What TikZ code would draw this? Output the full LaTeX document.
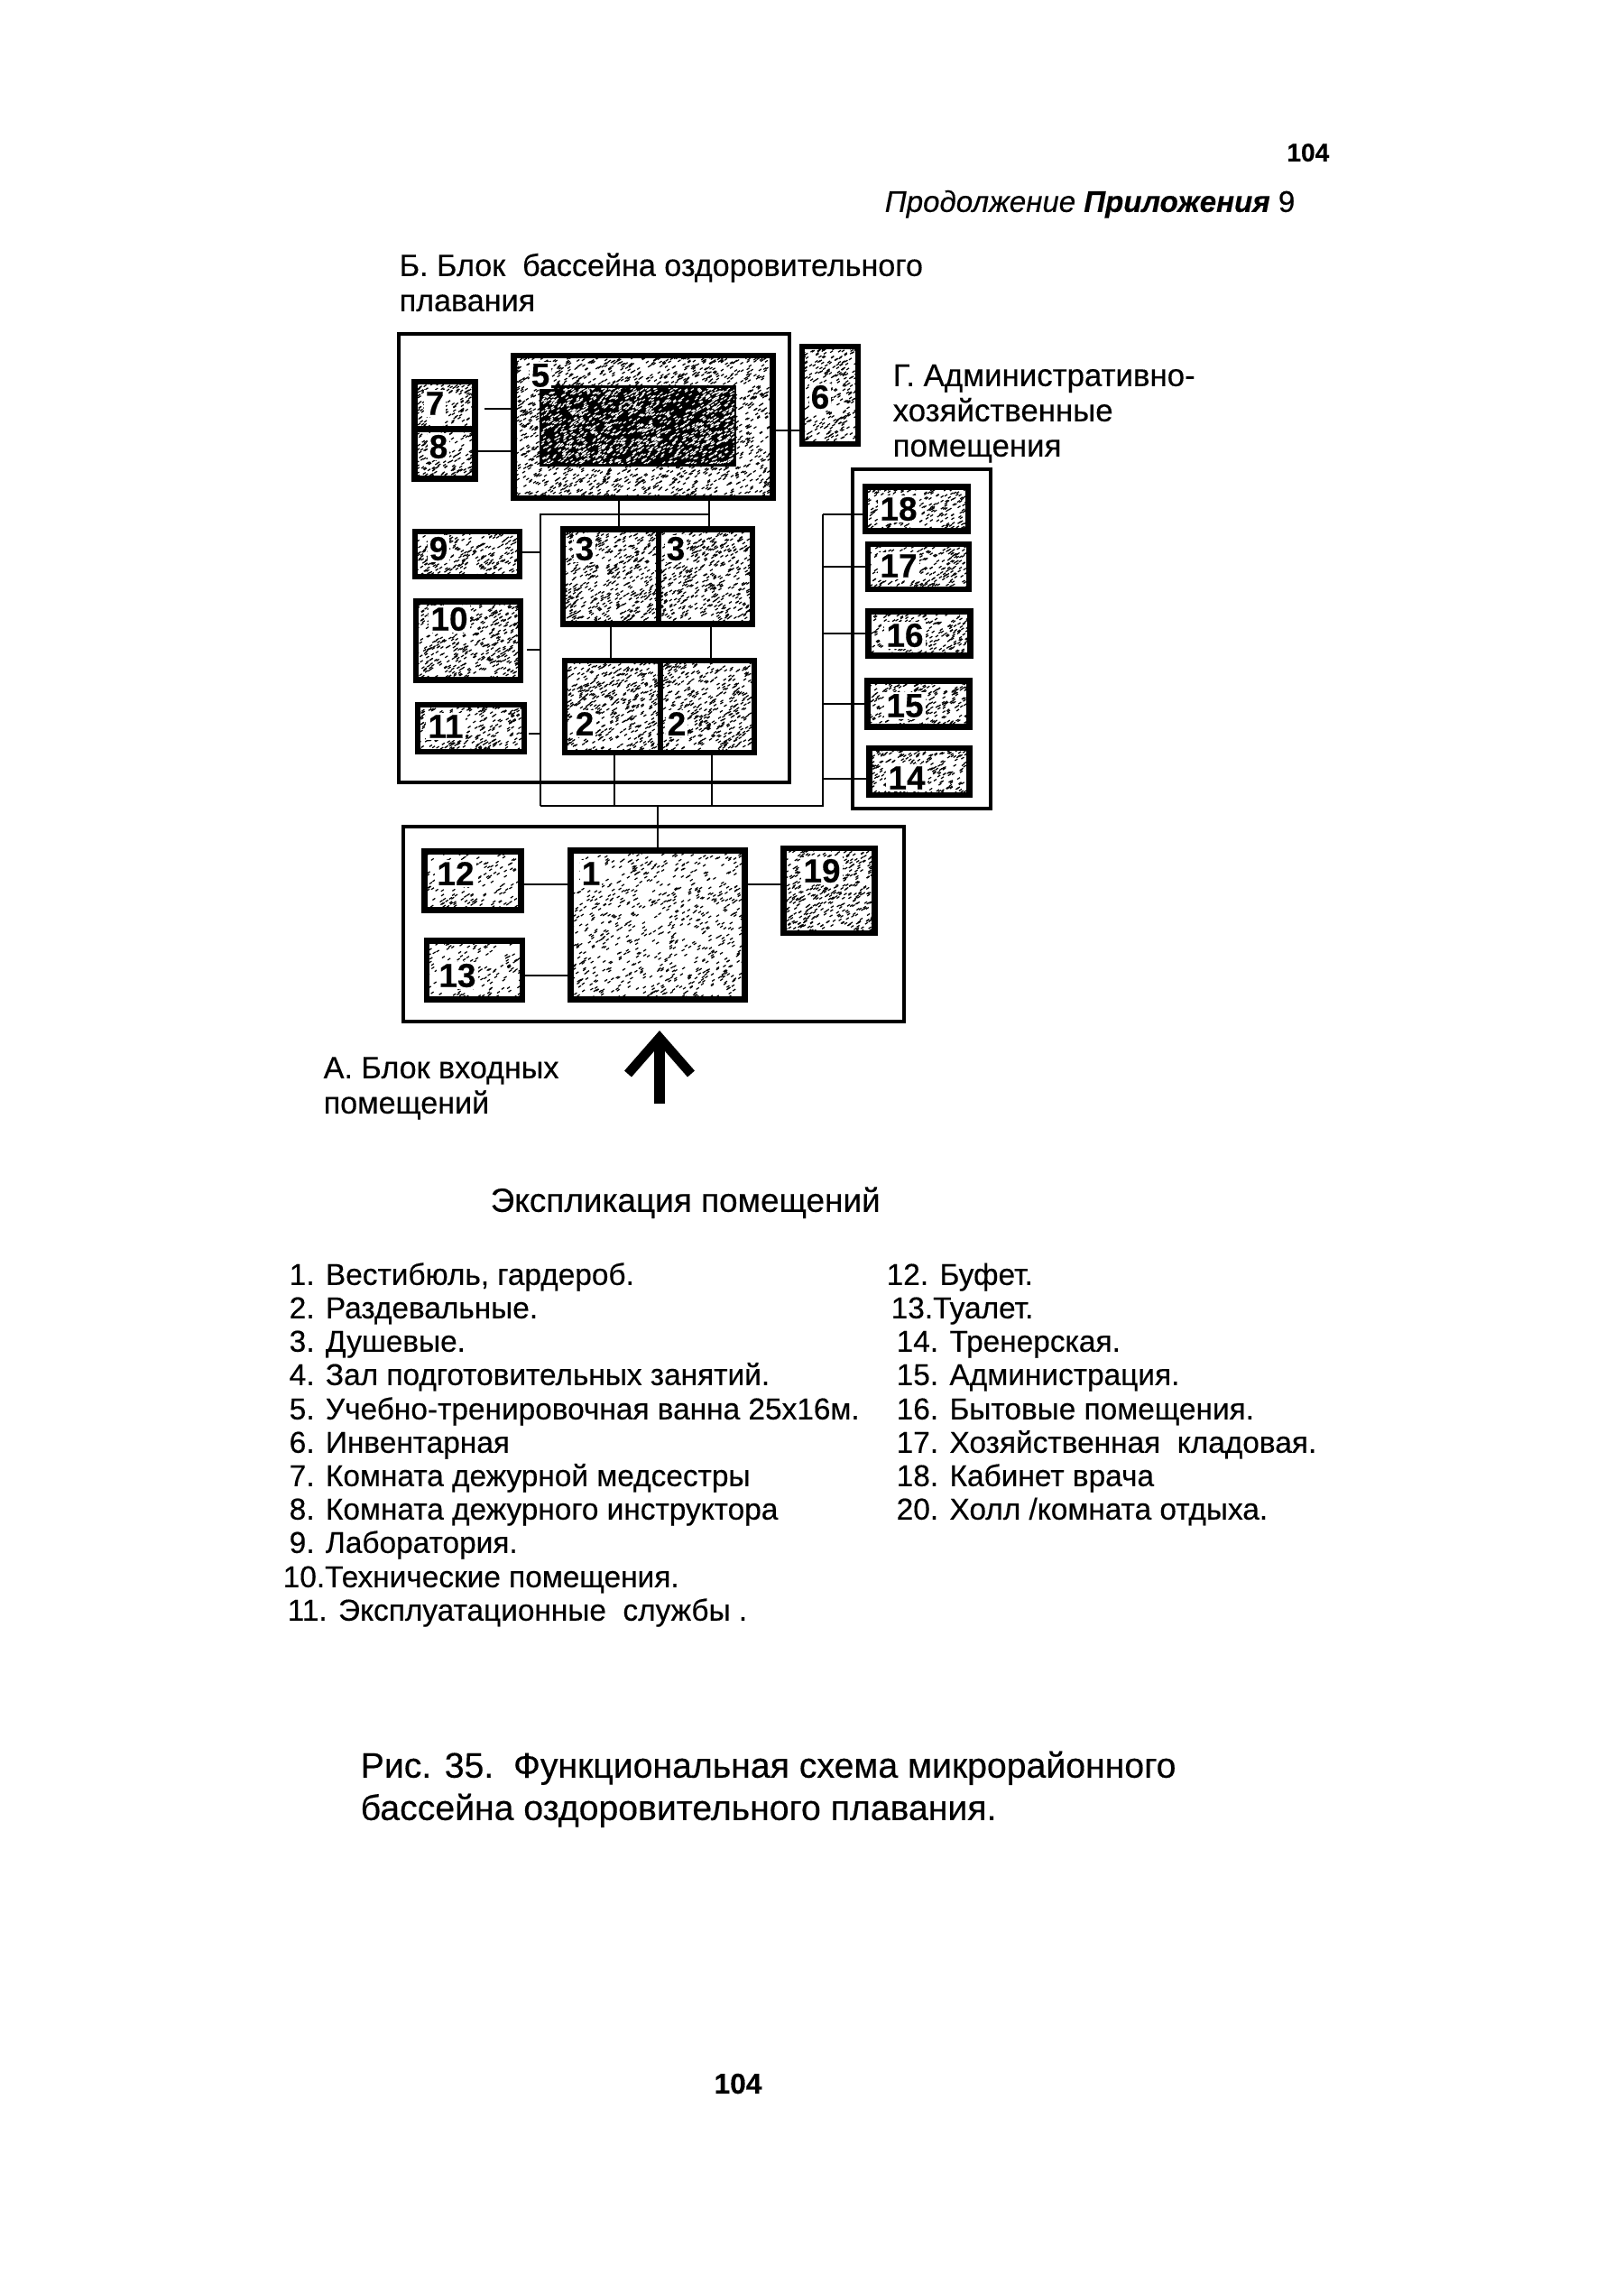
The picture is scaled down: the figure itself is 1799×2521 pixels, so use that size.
\documentclass[tikz,border=0pt]{standalone}
\usepackage{fontspec}
\setmainfont{Liberation Sans}[FakeBold=0.35]
\usepackage{tikz}
\usetikzlibrary{arrows.meta,positioning,calc}
\pgfmathsetseed{35}
\tikzset{
    specks/.style n args={4}{
        path picture={
            \pgfmathtruncatemacro{\nspeck}{#1/#3*#2}
            \foreach \k in {1,...,\nspeck} {
                \pgfmathsetmacro{\dx}{(rnd-0.5)*#1}
                \pgfmathsetmacro{\dy}{(rnd-0.5)*#2}
                \draw[#4,line width=0.35pt] (path picture bounding box.center) ++(\dx,\dy) -- ++(3,-2);
            }
        }
    }
}
\begin{document}
\begin{tikzpicture}[
    x=0.01cm,
    y=-0.01cm,
    txt/.style={
        anchor=west,
        inner sep=0pt,
        yshift=-0.03cm,
        text height=7pt,
        text depth=2pt,
        font=\fontsize{9.5pt}{11pt}\selectfont
    },
    head/.style={
        txt,
        font=\fontsize{9.7pt}{11pt}\selectfont
    },
    num/.style={
        inner sep=0.6pt,
        fill=white,
        font=\bfseries\fontsize{10.5pt}{11pt}\selectfont
    },
    blockbox/.style={
        draw=black,
        line width=1pt,
        anchor=north west,
        inner sep=0pt,
        fill=none
    },
    room/.style 2 args={
        draw=black,
        line width=1.8pt,
        inner sep=0pt,
        minimum width=#1*0.01cm,
        minimum height=#2*0.01cm,
        fill=white,
        specks={#1}{#2}{22}{black}
    },
    lightroom/.style 2 args={
        draw=black,
        line width=1.8pt,
        inner sep=0pt,
        minimum width=#1*0.01cm,
        minimum height=#2*0.01cm,
        fill=white,
        specks={#1}{#2}{42}{black}
    },
    darkroom/.style 2 args={
        draw=black,
        line width=0.8pt,
        inner sep=0pt,
        minimum width=#1*0.01cm,
        minimum height=#2*0.01cm,
        fill=black,
        specks={#1}{#2}{16}{white}
    },
    conn/.style={line width=0.8pt}
]
\useasboundingbox (0,0) rectangle (1799,2521);

% page head
\node[txt,anchor=east,font=\bfseries\fontsize{8pt}{10pt}\selectfont] (pageno) at (1474,167) {104};
\node[head,anchor=east,font=\fontsize{9.4pt}{11pt}\selectfont] (cont) at (1436,223) {\textit{Продолжение} \textbf{\textit{Приложения}} 9};
\node[head] (blockb1) at (442,294) {Б. Блок\ \ бассейна оздоровительного};
\node[head] (blockb2) at (442,333) {плавания};
\node[head,font=\fontsize{9.9pt}{11pt}\selectfont] (blockg1) at (989,416) {Г. Административно-};
\node[head,font=\fontsize{9.9pt}{11pt}\selectfont] (blockg2) at (989,455) {хозяйственные};
\node[head,font=\fontsize{9.9pt}{11pt}\selectfont] (blockg3) at (989,494) {помещения};

% blocks
\node[blockbox,minimum width=433*0.01cm,minimum height=497*0.01cm] (blockb) at (440,368) {};
\node[blockbox,minimum width=153*0.01cm,minimum height=376*0.01cm] (blockg) at (943,518) {};
\node[blockbox,minimum width=555*0.01cm,minimum height=216*0.01cm] (blocka) at (445,914) {};

% junctions of the corridor lines
\coordinate (busnw) at (599,570);
\coordinate (busne) at (912,570);
\coordinate (bussw) at (599,893);
\coordinate (busse) at (912,893);

% block B rooms
\node[room={287}{158}] (r5) at (713,473) {};
\node[darkroom={216}{87}] (pool) at (707,472) {};
\node[room={67}{52}] (r7) at (493,449) {};
\node[room={67}{55}] (r8) at (493,503) {};
\node[room={62}{108}] (r6) at (920,438) {};
\node[room={116}{50}] (r9) at (518,614) {};
\node[room={116}{87}] (r10) at (519,710) {};
\node[room={118}{52}] (r11) at (522,807) {};
\node[room={106}{105}] (r3a) at (677,639) {};
\node[room={104}{105}] (r3b) at (782,639) {};
\node[room={106}{102}] (r2a) at (679,783) {};
\node[room={104}{102}] (r2b) at (784,783) {};

% block G rooms
\node[room={114}{49}] (r18) at (1016,564) {};
\node[room={112}{50}] (r17) at (1018,628) {};
\node[room={113}{49}] (r16) at (1019,702) {};
\node[room={113}{51}] (r15) at (1018,780) {};
\node[room={111}{52}] (r14) at (1019,855) {};

% block A rooms
\node[lightroom={193}{165}] (r1) at (729,1025) {};
\node[lightroom={107}{65}] (r12) at (524,976) {};
\node[lightroom={106}{65}] (r13) at (526,1075) {};
\node[room={101}{94}] (r19) at (919,987) {};

% corridor lines
\draw[conn] (bussw) -- (busnw) -- (786,570);
\draw[conn] (bussw) -- (busse) -- (busne);
\draw[conn] (686,0 |- r5.south) -- (686,0 |- r3a.north);
\draw[conn] (786,0 |- r5.south) -- (786,0 |- r3b.north);
\draw[conn] (677,0 |- r3a.south) -- (677,0 |- r2a.north);
\draw[conn] (788,0 |- r3b.south) -- (788,0 |- r2b.north);
\draw[conn] (681,0 |- r2a.south) -- (681,0 |- bussw);
\draw[conn] (789,0 |- r2b.south) -- (789,0 |- bussw);
\draw[conn] (r1.north) -- (r1.north |- bussw);

% side branches
\draw[conn] (537,453) -- (r5.west |- 0,453);
\draw[conn] (r8.east |- 0,500) -- (r5.west |- 0,500);
\draw[conn] (r5.east |- 0,477) -- (r6.west |- 0,477);
\draw[conn] (r9.east |- 0,612) -- (busnw |- 0,612);
\draw[conn] (584,720) -- (busnw |- 0,720);
\draw[conn] (586,813) -- (busnw |- 0,813);
\draw[conn] (busne) -- (r18.west |- busne);
\draw[conn] (busne |- r17.west) -- (r17.west);
\draw[conn] (busne |- r16.west) -- (r16.west);
\draw[conn] (busne |- r15.west) -- (r15.west);
\draw[conn] (busne |- 0,863) -- (r14.west |- 0,863);
\draw[conn] (r12.east |- 0,980) -- (r1.west |- 0,980);
\draw[conn] (r13.east |- 0,1081) -- (r1.west |- 0,1081);
\draw[conn] (r1.east |- 0,980) -- (r19.west |- 0,980);

% room numbers
\node[num] (n5) at (599,416) {5};
\node[num] (n7) at (482,447) {7};
\node[num] (n8) at (486,495) {8};
\node[num] (n6) at (909,440) {6};
\node[num] (n9) at (486,608) {9};
\node[num] (n10) at (498,686) {10};
\node[num] (n11) at (494,805) {11};
\node[num] (n3a) at (648,608) {3};
\node[num] (n3b) at (749,608) {3};
\node[num] (n2a) at (648,802) {2};
\node[num] (n2b) at (750,802) {2};
\node[num] (n18) at (996,564) {18};
\node[num] (n17) at (996,627) {17};
\node[num] (n16) at (1003,704) {16};
\node[num] (n15) at (1003,782) {15};
\node[num] (n14) at (1005,862) {14};
\node[num] (n12) at (505,968) {12};
\node[num] (n13) at (507,1081) {13};
\node[num] (n1) at (655,968) {1};
\node[num] (n19) at (911,965) {19};

% entrance
\coordinate (entry) at (731,1223);
\coordinate (entrytip) at (731,1150);
\draw[line width=3.2pt] (entry) -- (entrytip);
\draw[line width=3pt] (696,1190) -- (entrytip) -- (766,1190);

\node[head] (blocka1) at (358,1183) {А. Блок входных};
\node[head] (blocka2) at (358,1222) {помещений};

% explication
\node[head,font=\fontsize{10.5pt}{11pt}\selectfont] (expl) at (543,1331) {Экспликация помещений};

\node[txt] (i1) at (320,1412) {1. Вестибюль, гардероб.};
\node[txt] (i2) at (320,1449) {2. Раздевальные.};
\node[txt] (i3) at (320,1486) {3. Душевые.};
\node[txt] (i4) at (320,1523) {4. Зал подготовительных занятий.};
\node[txt] (i5) at (320,1561) {5. Учебно-тренировочная ванна 25х16м.};
\node[txt] (i6) at (320,1598) {6. Инвентарная};
\node[txt] (i7) at (320,1635) {7. Комната дежурной медсестры};
\node[txt] (i8) at (320,1672) {8. Комната дежурного инструктора};
\node[txt] (i9) at (320,1709) {9. Лаборатория.};
\node[txt] (i10) at (313,1747) {10.Технические помещения.};
\node[txt] (i11) at (318,1784) {11. Эксплуатационные\ \ службы .};

\node[txt] (i12) at (982,1412) {12. Буфет.};
\node[txt] (i13) at (987,1449) {13.Туалет.};
\node[txt] (i14) at (993,1486) {14. Тренерская.};
\node[txt] (i15) at (993,1523) {15. Администрация.};
\node[txt] (i16) at (993,1561) {16. Бытовые помещения.};
\node[txt] (i17) at (993,1598) {17. Хозяйственная\ \ кладовая.};
\node[txt] (i18) at (993,1635) {18. Кабинет врача};
\node[txt] (i20) at (993,1672) {20. Холл /комната отдыха.};

% caption
\node[head,font=\fontsize{11.15pt}{13pt}\selectfont] (cap1) at (399,1958) {Рис. 35.\ \ Функциональная схема микрорайонного};
\node[head,font=\fontsize{11.15pt}{13pt}\selectfont] (cap2) at (399,2005) {бассейна оздоровительного плавания.};
\node[inner sep=0pt,font=\bfseries\fontsize{9pt}{11pt}\selectfont] (footno) at (818,2309) {104};

\end{tikzpicture}
\end{document}
